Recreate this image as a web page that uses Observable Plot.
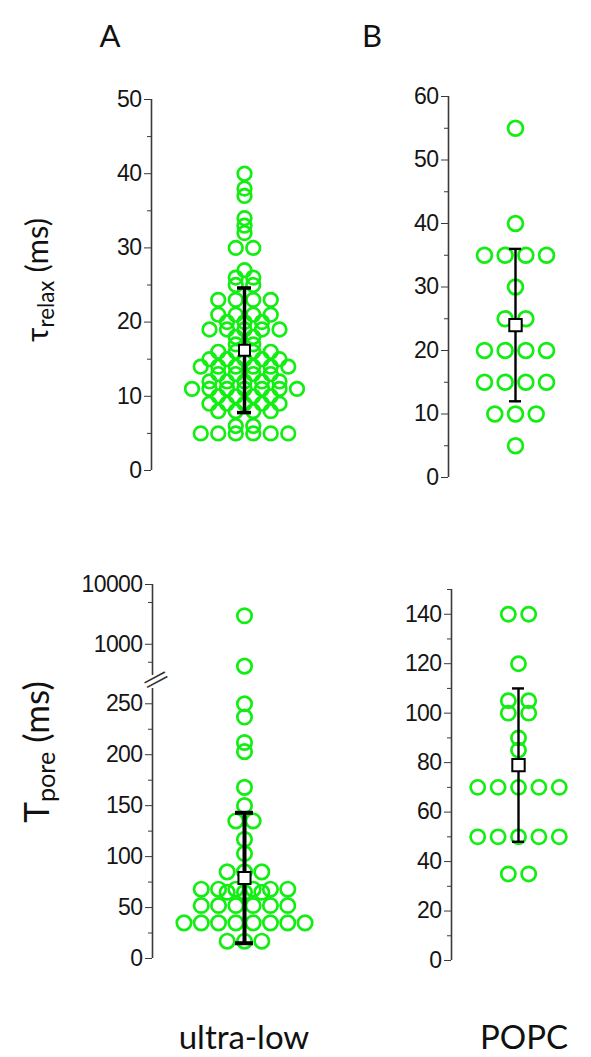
<!DOCTYPE html>
<html><head><meta charset="utf-8">
<script src="https://cdn.jsdelivr.net/npm/d3@7"></script>
<script src="https://cdn.jsdelivr.net/npm/@observablehq/plot@0.6"></script>
<style>
html,body{margin:0;padding:0;background:#fff;}
body{width:591px;height:1057px;position:relative;overflow:hidden;}
.abs{position:absolute;}
.lbl{position:absolute;font-family:Lato,"Open Sans",sans-serif;color:#111;white-space:nowrap;transform:translate(-50%,-50%);}
.rot{position:absolute;font-family:Lato,"Open Sans",sans-serif;color:#111;white-space:nowrap;transform:translate(-50%,-50%) rotate(-90deg);}
.rot sub{font-size:0.72em;vertical-align:-0.25em;}
</style></head><body>
<script>
// ---------- data ----------
const panelLetters = ["A", "B"];
const groups = ["ultra-low", "POPC"];

// tau_relax (ms)
const tauRelaxUltraLow = [
  5,5,5,5,5,5, 6,6, 8,8,8,8, 9,9,9,9,9, 10,10,10,10, 11,11,11,11,11,11,11,
  12,12,12,12,12, 13,13,13,13, 14,14,14,14,14,14, 15,15,15,15,15, 16,16,16,16,
  17,17, 18,18, 19,19,19,19,19, 20,20,20, 21,21,21,21, 23,23,23,23,
  25,25, 26,26, 27, 30,30, 32, 33, 34, 37, 38, 40
];
const tauRelaxPOPC = [55, 40, 35,35,35,35, 30, 25,25, 20,20,20,20, 15,15,15,15, 10,10,10, 5];

// T_pore (ms)
const tPoreUltraLow = [
  3000, 430, 250, 237, 212, 203, 168, 150, 135,135, 117, 103, 85,85,85,
  68,68,68,68,68,68, 65,65,65, 52,52,52,52,52,52, 35,35,35,35,35,35,35,35, 17,17,17
];
const tPorePOPC = [140,140, 120, 105,105, 100,100, 90, 85, 70,70,70,70,70, 50,50,50,50,50, 35,35];

// mean and standard deviation shown by the square and error bar
const meanRelax = [16.2, 24.0];
const sdRelax = [8.4, 12.0];
const meanPore = [79, 79];
const sdPore = [64, 31];

// axis ticks
const ticksRelaxA = [0, 10, 20, 30, 40, 50];
const minorRelaxA = [5, 15, 25, 35, 45];
const ticksRelaxB = [0, 10, 20, 30, 40, 50, 60];
const minorRelaxB = [5, 15, 25, 35, 45, 55];
const ticksPoreAUpper = [1000, 10000];
const minorPoreAUpper = [500, 5000];
const ticksPoreALower = [0, 50, 100, 150, 200, 250];
const minorPoreALower = [25, 75, 125, 175, 225];
const ticksPoreB = [0, 20, 40, 60, 80, 100, 120, 140];
const minorPoreB = [10, 30, 50, 70, 90, 110, 130, 150];

// ---------- helpers ----------
const GREEN = "#12ee12";
const TICK_FONT = 23;

// column-scatter layout: points sharing a value are spread side by side
function swarm(values) {
  const counts = d3.rollup(values, v => v.length, d => d);
  const seen = new Map();
  return values.map(v => {
    const n = counts.get(v);
    const i = seen.get(v) || 0;
    seen.set(v, i + 1);
    return {value: v, offset: i - (n - 1) / 2};
  });
}

function panel(cfg) {
  const {values, mean, sd, left, top, width, height, axisX, yMaxPx, yMinPx,
         domain, type = "linear", cx, sp, r, major, minor, barW = 3, capPx = 14, sq = 6.5,
         sw = 2.7, extra = []} = cfg;
  const pts = swarm(values.filter(v => v >= domain[0] && v <= domain[1]));
  const lo = (axisX - cx) / sp, hi = (left + width - cx) / sp;
  const marks = [
    Plot.ruleX([lo], {stroke: "#3a3a3a", strokeWidth: 1.6}),
    Plot.axisY({ticks: minor, tickSize: 4, tickFormat: () => "", stroke: "#3a3a3a", label: null}),
    Plot.axisY({ticks: major, tickSize: 7, tickPadding: 3, tickFormat: d3.format("d"),
                fontSize: TICK_FONT, fill: "#151515", stroke: "#3a3a3a", label: null}),
    Plot.dot(pts, {x: "offset", y: "value", r, stroke: GREEN, strokeWidth: sw, fill: "none"})
  ];
  if (mean != null) {
    const c = capPx / 2 / sp;
    marks.push(
      Plot.ruleX([mean], {x: () => 0, y1: d => d - sd, y2: d => d + sd, stroke: "#000", strokeWidth: barW}),
      Plot.ruleY([mean - sd, mean + sd], {x1: () => -c, x2: () => c, stroke: "#000", strokeWidth: barW}),
      Plot.dot([mean], {x: () => 0, y: d => d, symbol: "square", r: sq, fill: "#fff", stroke: "#000", strokeWidth: 2})
    );
  }
  marks.push(...extra);
  const svg = Plot.plot({
    width, height,
    marginLeft: axisX - left, marginRight: 0,
    marginTop: yMaxPx - top, marginBottom: top + height - yMinPx,
    x: {domain: [lo, hi], axis: null},
    y: {domain, type, label: null},
    style: {fontFamily: "'Liberation Sans', Arial, sans-serif", fontSize: TICK_FONT + "px",
            background: "transparent", overflow: "visible"},
    marks
  });
  // make sure the tick labels get the intended size
  d3.select(svg).selectAll("text")
    .attr("font-size", TICK_FONT)
    .style("font-size", TICK_FONT + "px")
    .style("font-family", "'Liberation Sans', Arial, sans-serif")
    .style("letter-spacing", "-0.6px");
  svg.classList.add("abs");
  svg.style.left = left + "px";
  svg.style.top = top + "px";
  document.body.appendChild(svg);
}

// ---------- panels ----------
panel({values: tauRelaxUltraLow, mean: meanRelax[0], sd: sdRelax[0],
       left: 0, top: 80, width: 320, height: 410, axisX: 151, yMaxPx: 99, yMinPx: 470,
       domain: [0, 50], cx: 244, sp: 17.5, r: 6.8, major: ticksRelaxA, minor: minorRelaxA,
       barW: 3.5, capPx: 14, sq: 6.2});

panel({values: tauRelaxPOPC, mean: meanRelax[1], sd: sdRelax[1],
       left: 330, top: 80, width: 261, height: 410, axisX: 448, yMaxPx: 96, yMinPx: 477,
       domain: [0, 60], cx: 515, sp: 20.7, r: 7.4, major: ticksRelaxB, minor: minorRelaxB,
       barW: 2.4, capPx: 12, sq: 7});

// broken axis: log segment on top
panel({values: tPoreUltraLow, mean: null,
       left: 0, top: 570, width: 330, height: 115, axisX: 152, yMaxPx: 584, yMinPx: 675,
       domain: [300, 10000], type: "log", cx: 244, sp: 17.3, r: 7.2,
       major: ticksPoreAUpper, minor: minorPoreAUpper});

panel({values: tPoreUltraLow, mean: meanPore[0], sd: sdPore[0],
       left: 0, top: 680, width: 330, height: 295, axisX: 152, yMaxPx: 688, yMinPx: 958,
       domain: [0, 265], cx: 244, sp: 17.3, r: 7.2, major: ticksPoreALower, minor: minorPoreALower,
       barW: 4, capPx: 18, sq: 6.8,
       extra: [Plot.text(["\u2014\n\u2014"], {frameAnchor: "top-left", textAnchor: "middle", dx: 3, dy: -9,
               rotate: -28, lineHeight: 0.22, fill: "#333"})]});

panel({values: tPorePOPC, mean: meanPore[1], sd: sdPore[1],
       left: 330, top: 575, width: 261, height: 400, axisX: 451, yMaxPx: 589, yMinPx: 960,
       domain: [0, 150], cx: 518, sp: 20.4, r: 7.1, major: ticksPoreB, minor: minorPoreB,
       barW: 2.4, capPx: 12, sq: 7});

// ---------- text ----------
function label(cls, html, x, y, size) {
  const d = document.createElement("div");
  d.className = cls;
  d.innerHTML = html;
  d.style.left = x + "px";
  d.style.top = y + "px";
  d.style.fontSize = size + "px";
  document.body.appendChild(d);
}
label("lbl", panelLetters[0], 110, 35, 31);
label("lbl", panelLetters[1], 372, 35, 31);
label("rot", "\u03C4<sub>relax</sub> (ms)", 38, 280, 31);
label("rot", "T<sub>pore</sub> (ms)", 37, 752, 35);
label("lbl", groups[0], 244, 1036, 33);
label("lbl", groups[1], 524, 1036, 33);
</script>
</body></html>
